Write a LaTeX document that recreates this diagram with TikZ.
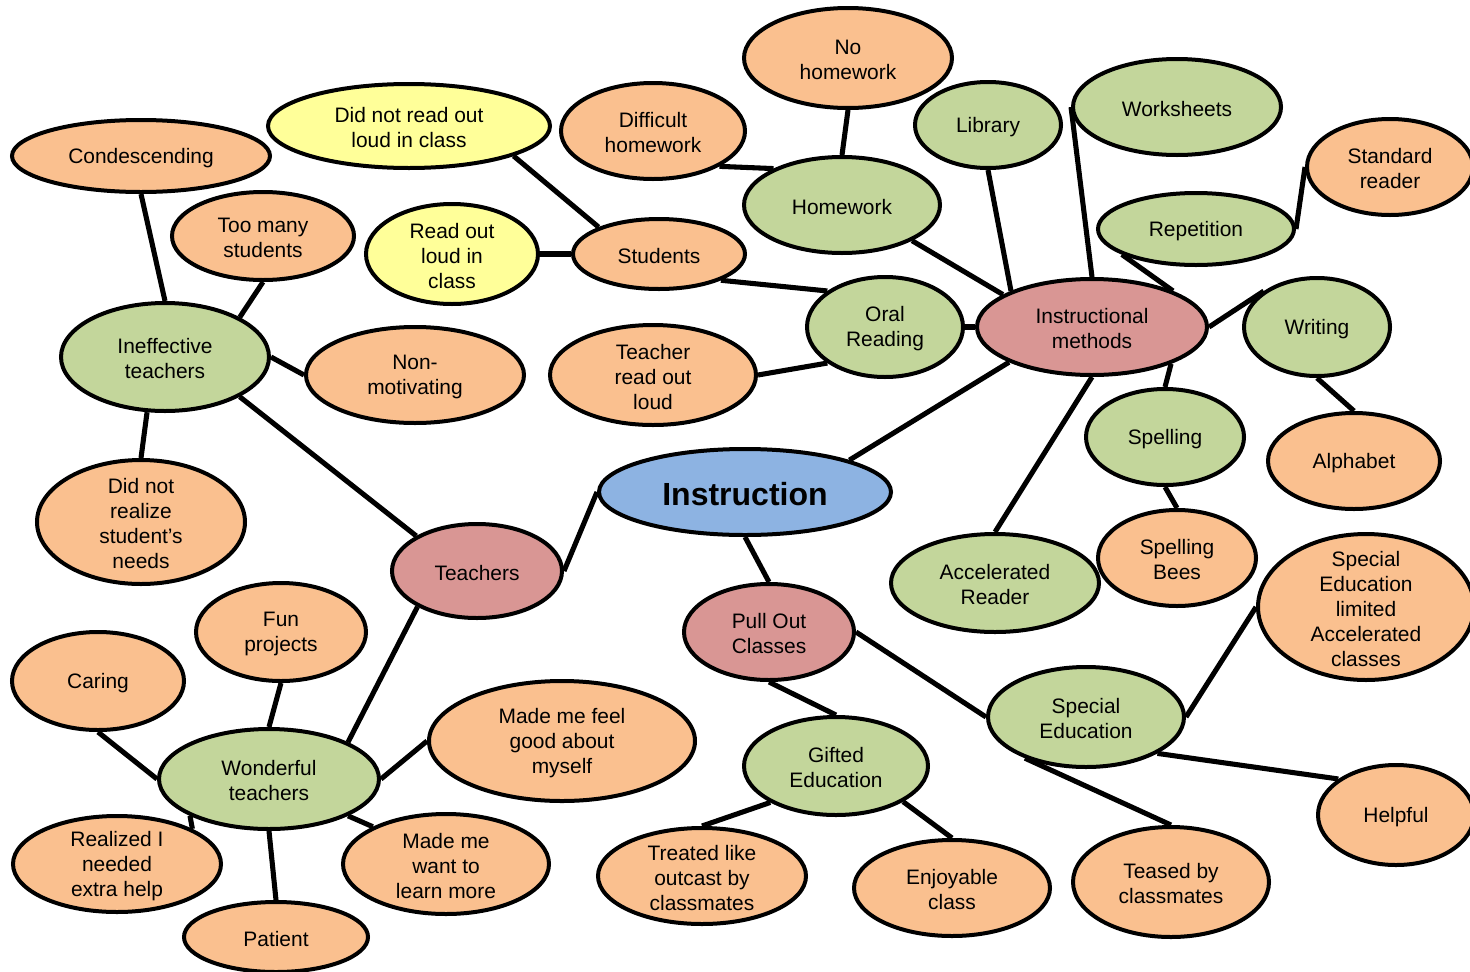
\documentclass[tikz,border=0pt]{standalone}
\usepackage{fontspec}
\setmainfont{Liberation Sans}
\usetikzlibrary{shapes.geometric,backgrounds}
\definecolor{orgfill}{HTML}{FAC08F}
\definecolor{grnfill}{HTML}{C3D69B}
\definecolor{pnkfill}{HTML}{D99694}
\definecolor{blufill}{HTML}{8DB3E2}
\definecolor{ylwfill}{HTML}{FFFF99}
\tikzset{
  bubble/.style={ellipse, draw=black, line width=3pt, inner sep=0pt},
  orangebub/.style={bubble, fill=orgfill},
  greenbub/.style={bubble, fill=grnfill},
  pinkbub/.style={bubble, fill=pnkfill},
  bluebub/.style={bubble, fill=blufill},
  yellowbub/.style={bubble, fill=ylwfill},
  bubtext/.style={align=center, inner sep=0pt, text=black, yshift=-1.3pt, font=\fontsize{15.7}{18.75}\selectfont},
  link/.style={line width=3.8pt, draw=black}
}
\newcommand\bub[7]{\node[#1, minimum width=#5*0.75pt, minimum height=#6*0.75pt,
  label={[bubtext]center:{#7}}] (#2) at (#3,#4) {};}
\begin{document}
\begin{tikzpicture}[x=0.75pt, y=-0.75pt]
\useasboundingbox (0,0) rectangle (1470,971);
% central
\bub{bluebub}{instr}{745}{492}{292}{86}{\fontsize{24}{28}\selectfont\bfseries Instruction}
% pink
\bub{pinkbub}{teach}{477}{571}{170}{94}{Teachers}
\bub{pinkbub}{pull}{769}{632}{170}{96}{Pull Out\\Classes}
\bub{pinkbub}{im}{1092}{327}{230}{96}{Instructional\\methods}
% green
\bub{greenbub}{ineff}{165}{357}{208}{108}{Ineffective\\teachers}
\bub{greenbub}{wond}{269}{779}{220}{100}{Wonderful\\teachers}
\bub{greenbub}{hw}{842}{205}{196}{96}{Homework}
\bub{greenbub}{oral}{885}{327}{156}{100}{Oral\\Reading}
\bub{greenbub}{lib}{988}{125}{146}{86}{Library}
\bub{greenbub}{ws}{1177}{107}{208}{96}{Worksheets}
\bub{greenbub}{rep}{1196}{229}{196}{72}{Repetition}
\bub{greenbub}{writ}{1317}{327}{146}{98}{Writing}
\bub{greenbub}{spell}{1165}{437}{158}{96}{Spelling}
\bub{greenbub}{acc}{995}{583}{208}{98}{Accelerated\\Reader}
\bub{greenbub}{gift}{836}{766}{184}{98}{Gifted\\Education}
\bub{greenbub}{sped}{1086}{717}{196}{100}{Special\\Education}
% yellow
\bub{yellowbub}{notread}{409}{126}{282}{84}{Did not read out\\loud in class}
\bub{yellowbub}{readol}{452}{254}{172}{100}{Read out\\loud in\\class}
% orange
\bub{orangebub}{stud}{659}{254}{172}{70}{Students}
\bub{orangebub}{diffhw}{653}{131}{184}{96}{Difficult\\homework}
\bub{orangebub}{nohw}{848}{58}{208}{100}{No\\homework}
\bub{orangebub}{tread}{653}{375}{206}{100}{Teacher\\read out\\loud}
\bub{orangebub}{cond}{141}{156}{258}{72}{Condescending}
\bub{orangebub}{toomany}{263}{236}{182}{88}{Too many\\students}
\bub{orangebub}{nonmot}{415}{375}{218}{96}{Non-\\motivating}
\bub{orangebub}{realize}{141}{522}{208}{124}{Did not\\realize\\student’s\\needs}
\bub{orangebub}{fun}{281}{632}{170}{98}{Fun\\projects}
\bub{orangebub}{caring}{98}{681}{172}{98}{Caring}
\bub{orangebub}{feel}{562}{741}{266}{120}{Made me feel\\good about\\myself}
\bub{orangebub}{extra}{117}{864}{208}{96}{Realized I\\needed\\extra help}
\bub{orangebub}{patient}{276}{937}{184}{70}{Patient}
\bub{orangebub}{want}{446}{864}{206}{100}{Made me\\want to\\learn more}
\bub{orangebub}{outcast}{702}{876}{208}{96}{Treated like\\outcast by\\classmates}
\bub{orangebub}{enjoy}{952}{888}{196}{96}{Enjoyable\\class}
\bub{orangebub}{teased}{1171}{882}{196}{110}{Teased by\\classmates}
\bub{orangebub}{helpful}{1396}{815}{156}{100}{Helpful}
\bub{orangebub}{limited}{1366}{607}{216}{146}{Special\\Education\\limited\\Accelerated\\classes}
\bub{orangebub}{alpha}{1354}{461}{172}{96}{Alphabet}
\bub{orangebub}{bees}{1177}{558}{158}{96}{Spelling\\Bees}
\bub{orangebub}{std}{1390}{167}{166}{96}{Standard\\reader}
\begin{pgfonlayer}{background}
\draw[link] (instr.west) -- (teach.east);
\draw[link] (instr.south) -- (pull.north);
\draw[link] (instr.17) -- (im.203);
\draw[link] (teach.150) -- (ineff.332);
\draw[link] (teach.211) -- (wond.25);
\draw[link] (cond.south) -- (ineff.north);
\draw[link] (toomany.south) -- (ineff.28);
\draw[link] (ineff.east) -- (nonmot.west);
\draw[link] (ineff.252) -- (realize.north);
\draw[link] (fun.south) -- (wond.north);
\draw[link] (caring.south) -- (wond.west);
\draw[link] (wond.east) -- (feel.west);
\draw[link] (wond.205) -- (extra.25);
\draw[link] (wond.south) -- (patient.north);
\draw[link] (wond.335) -- (want.153);
\draw[link] (pull.south) -- (gift.north);
\draw[link] (pull.east) -- (sped.west);
\draw[link] (gift.209) -- (outcast.north);
\draw[link] (gift.332) -- (enjoy.north);
\draw[link] (sped.214) -- (teased.north);
\draw[link] (sped.333) -- (helpful.148);
\draw[link] (sped.east) -- (limited.west);
\draw[link] (hw.333) -- (im.160);
\draw[link] (lib.south) -- (im.156);
\draw[link] (ws.west) -- (im.north);
\draw[link] (rep.199) -- (im.24);
\draw[link] (rep.east) -- (std.west);
\draw[link] (oral.east) -- (im.west);
\draw[link] (im.east) -- (writ.146);
\draw[link] (im.335) -- (spell.north);
\draw[link] (im.south) -- (acc.north);
\draw[link] (writ.south) -- (alpha.north);
\draw[link] (spell.south) -- (bees.north);
\draw[link] (stud.337) -- (oral.148);
\draw[link] (tread.east) -- (oral.212);
\draw[link] (nohw.south) -- (hw.north);
\draw[link] (diffhw.332) -- (hw.152);
\draw[link] (notread.344) -- (stud.156);
\draw[link] (readol.east) -- (stud.west);
\end{pgfonlayer}
\end{tikzpicture}
\end{document}
